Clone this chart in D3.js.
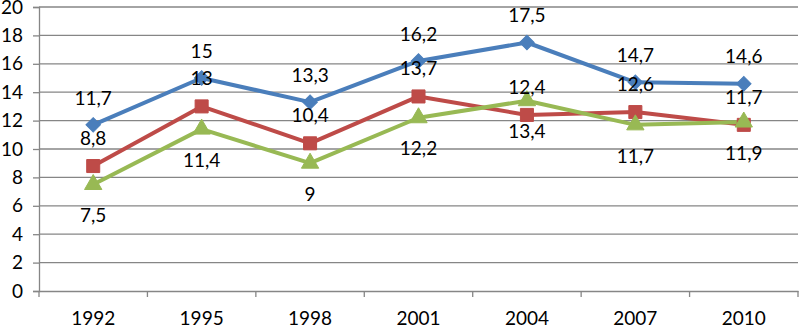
<!DOCTYPE html>
<html lang="en">
<head>
    <meta charset="UTF-8">
    <title>Line chart 1992-2010</title>
    <script src="https://d3js.org/d3.v7.min.js"></script>
    <style>
        body { margin: 0; background: #fff; }
        text { font-family: Lato, "Open Sans", sans-serif; fill: #000; }
    </style>
</head>
<body>
    <div id="chart"></div>
    <script>
        const years = ["1992", "1995", "1998", "2001", "2004", "2007", "2010"];
        const blueValues = [11.7, 15, 13.3, 16.2, 17.5, 14.7, 14.6];
        const redValues = [8.8, 13, 10.4, 13.7, 12.4, 12.6, 11.7];
        const greenValues = [7.5, 11.4, 9, 12.2, 13.4, 11.7, 11.9];
        const yTicks = [0, 2, 4, 6, 8, 10, 12, 14, 16, 18, 20];

        const W = 799, H = 325;
        const margin = {top: 7, right: 1, bottom: 34, left: 39};
        const width = W - margin.left - margin.right,
              height = H - margin.top - margin.bottom;
        const fontSize = "19px";

        const svg = d3.select("#chart").append("svg")
            .attr("width", W).attr("height", H);
        const g = svg.append("g")
            .attr("transform", `translate(${margin.left},${margin.top})`);

        const x = d3.scaleBand().domain(years).range([0, width]);
        const y = d3.scaleLinear().domain([0, 20]).range([height, 0]);
        const fmt = v => String(v).replace(".", ",");

        // gridlines
        g.selectAll(".grid").data(yTicks.filter(d => d > 0)).enter().append("line")
            .attr("x1", 0).attr("x2", width)
            .attr("y1", d => y(d)).attr("y2", d => y(d))
            .attr("stroke", "#868686").attr("stroke-width", 1.3);

        // y axis
        const yAxis = g.append("g")
            .call(d3.axisLeft(y).tickValues(yTicks).tickSize(6).tickPadding(10).tickFormat(d => d));
        yAxis.select(".domain").attr("stroke", "#868686").attr("stroke-width", 1.3);
        yAxis.selectAll(".tick line").attr("stroke", "#868686").attr("stroke-width", 1.3);
        yAxis.selectAll("text").style("font-size", fontSize).attr("fill", "#000");

        // x axis
        const xAxis = g.append("g")
            .attr("transform", `translate(0,${height})`)
            .call(d3.axisBottom(x).tickSize(0).tickPadding(21));
        xAxis.select(".domain").attr("stroke", "#868686").attr("stroke-width", 1.3);
        xAxis.selectAll("text").style("font-size", fontSize).attr("fill", "#000");
        // tick marks between categories
        g.selectAll(".xtick").data(d3.range(years.length + 1)).enter().append("line")
            .attr("x1", i => i * x.step()).attr("x2", i => i * x.step())
            .attr("y1", height).attr("y2", height + 6)
            .attr("stroke", "#868686").attr("stroke-width", 1.3);

        const cx = (d, i) => x(years[i]) + x.bandwidth() / 2;
        const line = d3.line().x((d, i) => cx(d, i)).y(d => y(d));

        const series = [
            {values: blueValues, color: "#4a7ebb", symbol: d3.symbolSquare, size: 105, rot: 45, dy: -27},
            {values: redValues, color: "#be4b48", symbol: d3.symbolSquare, size: 170, rot: 0, dy: -28},
            {values: greenValues, color: "#98b954", symbol: d3.symbolTriangle, size: 130, rot: 0, dy: 31}
        ];

        series.forEach(s => {
            g.append("path")
                .datum(s.values)
                .attr("d", line)
                .attr("fill", "none")
                .attr("stroke", s.color)
                .attr("stroke-width", 4)
                .attr("stroke-linejoin", "round");
        });

        series.forEach(s => {
            g.selectAll(null).data(s.values).enter().append("path")
                .attr("d", d3.symbol().type(s.symbol).size(s.size))
                .attr("transform", (d, i) => `translate(${cx(d, i)},${y(d)}) rotate(${s.rot})`)
                .attr("fill", s.color)
                .attr("stroke", s.color).attr("stroke-width", 1);
        });

        series.forEach(s => {
            g.selectAll(null).data(s.values).enter().append("text")
                .attr("x", (d, i) => cx(d, i))
                .attr("y", d => y(d) + s.dy)
                .attr("dy", "0.35em")
                .attr("text-anchor", "middle")
                .style("font-size", fontSize)
                .text(d => fmt(d));
        });
    </script>
</body>
</html>
